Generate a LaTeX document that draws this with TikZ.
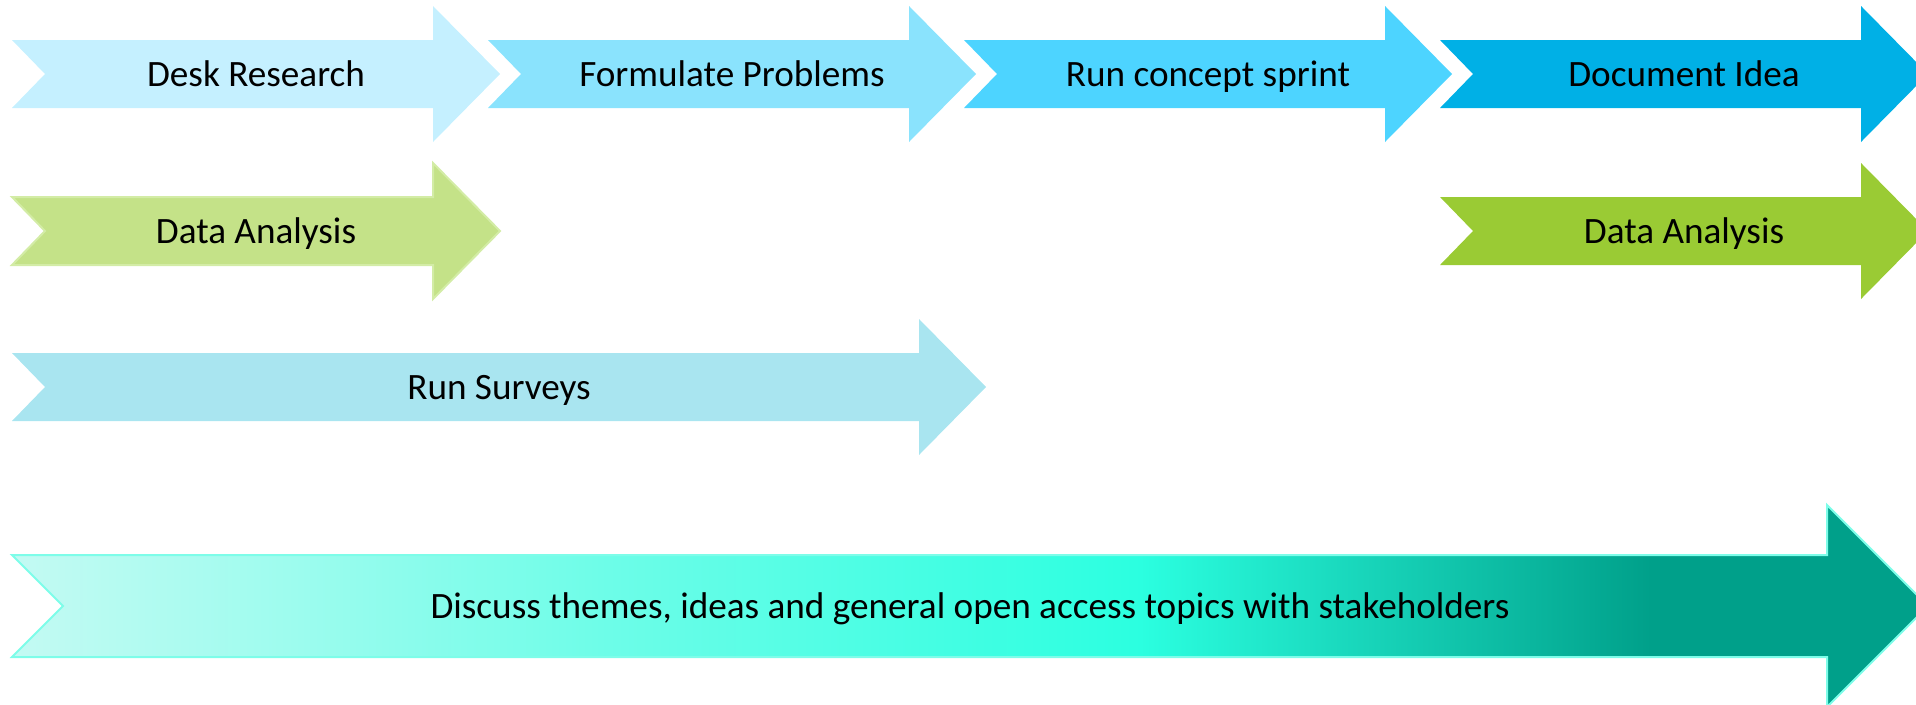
\documentclass[tikz,border=0pt]{standalone}
\usepackage{fontspec}
\setmainfont{Carlito}
\definecolor{cDesk}{HTML}{C5F0FF}
\definecolor{cForm}{HTML}{8AE3FD}
\definecolor{cSprint}{HTML}{4DD4FF}
\definecolor{cDoc}{HTML}{00B0E6}
\definecolor{cDataL}{HTML}{C4E288}
\definecolor{cDataLb}{HTML}{D3ECA6}
\definecolor{cDataR}{HTML}{9ACB34}
\definecolor{cSurv}{HTML}{A9E5F0}
\definecolor{gA}{HTML}{C4FAF3}
\definecolor{gB}{HTML}{9CFCEE}
\definecolor{gC}{HTML}{6EFDE8}
\definecolor{gD}{HTML}{2BFFE0}
\definecolor{gE}{HTML}{00A08A}
\definecolor{gBorder}{HTML}{7DFDE9}
% #1 left, #2 centre y, #3 tip x, #4 body half, #5 head half, #6 head length, #7 notch, #8 style
\newcommand{\chevshape}[8]{%
  \path[#8] (#1,{#2-#4}) -- ({#3-#6},{#2-#4}) -- ({#3-#6},{#2-#5}) -- (#3,#2)
    -- ({#3-#6},{#2+#5}) -- ({#3-#6},{#2+#4}) -- (#1,{#2+#4}) -- ({#1+#7},#2) -- cycle;}
\newcommand{\bigarrowpath}{(12,555) -- (1827,555) -- (1827,505) -- (1928,606) -- (1827,707) -- (1827,657) -- (12,657) -- (63,606) -- cycle}
\begin{document}
\begin{tikzpicture}[x=1pt,y=-1pt,
  lbl/.style={font=\fontsize{37.2}{44}\selectfont, anchor=base, inner sep=0pt, text=black}]
\useasboundingbox (0,0) rectangle (1916,704);
\clip (0,0) rectangle (1916,704);
% row 1
\chevshape{12}{74}{500}{34}{68}{67}{33}{fill=cDesk}
\chevshape{488}{74}{976}{34}{68}{67}{33}{fill=cForm}
\chevshape{964}{74}{1452}{34}{68}{67}{33}{fill=cSprint}
\chevshape{1440}{74}{1928}{34}{68}{67}{33}{fill=cDoc}
% row 2
\chevshape{12}{231}{500}{34}{68}{67}{33}{fill=cDataL, draw=cDataLb, line width=2pt}
\chevshape{1440}{231}{1928}{34}{68}{67}{33}{fill=cDataR}
% row 3
\chevshape{12}{387}{986}{34}{68}{67}{33}{fill=cSurv}
% row 4: gradient arrow
\begin{scope}
  \clip \bigarrowpath;
  \shade[left color=gA, right color=gB] (10,500) rectangle (301,710);
  \shade[left color=gB, right color=gC] (300,500) rectangle (601,710);
  \shade[left color=gC, right color=gD] (600,500) rectangle (1141,710);
  \shade[left color=gD, right color=gE] (1140,500) rectangle (1651,710);
  \fill[gE] (1650,500) rectangle (1930,710);
\end{scope}
\draw[gBorder, line width=2pt, line join=miter] \bigarrowpath;
% labels
\node[lbl] (desk) at (256,86) {Desk Research};
\node[lbl] (formulate) at (732,86) {Formulate Problems};
\node[lbl] (sprint) at (1208,86) {Run concept sprint};
\node[lbl] (document) at (1684,86) {Document Idea};
\node[lbl] (dataL) at (256,243) {Data Analysis};
\node[lbl] (dataR) at (1684,243) {Data Analysis};
\node[lbl] (surveys) at (499,399) {Run Surveys};
\node[lbl] (discuss) at (970,618) {Discuss themes, ideas and general open access topics with stakeholders};
\end{tikzpicture}
\end{document}
